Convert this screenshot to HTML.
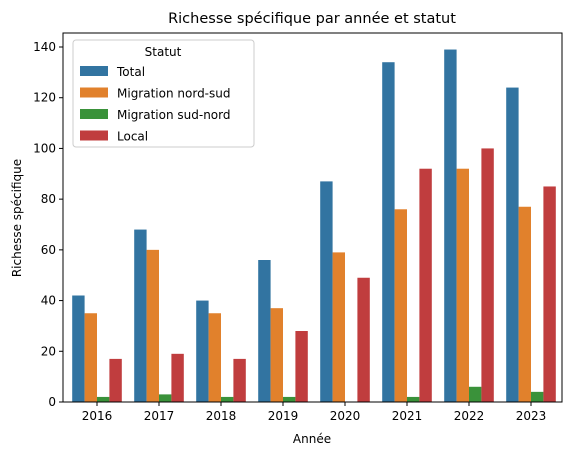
<!DOCTYPE html>
<html><head><meta charset="utf-8"><style>
body{margin:0;background:#fff;font-family:"Liberation Sans","DejaVu Sans",sans-serif;}
svg text{font-family:"DejaVu Sans","Liberation Sans",sans-serif;fill:#000;}
</style></head><body>
<svg id="c" width="572" height="455"></svg>
<script>
const years=["2016","2017","2018","2019","2020","2021","2022","2023"];
const total=[42,68,40,56,87,134,139,124];
const nordSud=[35,60,35,37,59,76,92,77];
const sudNord=[2,3,2,2,0,2,6,4];
const local=[17,19,17,28,49,92,100,85];
const yTicks=[0,20,40,60,80,100,120,140];
const seriesNames=["Total","Migration nord-sud","Migration sud-nord","Local"];
const colors=["#3274a1","#e1812c","#3a923a","#c03d3e"];
const series=[total,nordSud,sudNord,local];
const NS="http://www.w3.org/2000/svg";
const svg=document.getElementById('c');
const L=66,R=562,T=33,B=402;
const y=v=>B-(v/140)*(B-47);
const band=(R-L)/years.length;
const xc=i=>L+band*(i+0.5);
function mk(t,a,txt){const e=document.createElementNS(NS,t);for(const k in a)e.setAttribute(k,a[k]);if(txt!=null)e.textContent=txt;svg.appendChild(e);return e;}
const bw=band*0.8/4;
series.forEach((s,si)=>{s.forEach((v,i)=>{
 const r=mk('rect',{x:xc(i)-band*0.4+si*bw,y:y(v),width:bw,height:B-y(v),fill:colors[si]});
 
 
});});
const ax=mk('rect',{x:63,y:T,width:R-63,height:B-T,fill:'none',stroke:'#000','stroke-width':1});

yTicks.forEach(v=>{
 mk('line',{x1:59,x2:63,y1:y(v),y2:y(v),stroke:'#000'});
 const t=mk('text',{x:56,y:y(v)+4,'text-anchor':'end','font-size':12},v);
 
});
years.forEach((yr,i)=>{
 mk('line',{x1:xc(i),x2:xc(i),y1:B,y2:B+4,stroke:'#000'});
 const t=mk('text',{x:xc(i),y:B+18,'text-anchor':'middle','font-size':12},yr);
 
});
let t=mk('text',{x:312,y:23,'text-anchor':'middle','font-size':14.5},'Richesse spécifique par année et statut');

t=mk('text',{x:312,y:443,'text-anchor':'middle','font-size':12},'Année');

t=mk('text',{x:21,y:218,'text-anchor':'middle','font-size':12,transform:'rotate(-90 21 218)'},'Richesse spécifique');

const lg=mk('rect',{x:73,y:40,width:181,height:107,rx:3,fill:'#fff',stroke:'#ccc','fill-opacity':0.8});

t=mk('text',{x:163,y:56,'text-anchor':'middle','font-size':12},'Statut');

seriesNames.forEach((n,i)=>{
 const yy=66+i*21.5;
 mk('rect',{x:80,y:yy,width:28,height:10,fill:colors[i]});
 const e=mk('text',{x:117,y:yy+10,'font-size':12},n);
 
});
</script>
</body></html>
